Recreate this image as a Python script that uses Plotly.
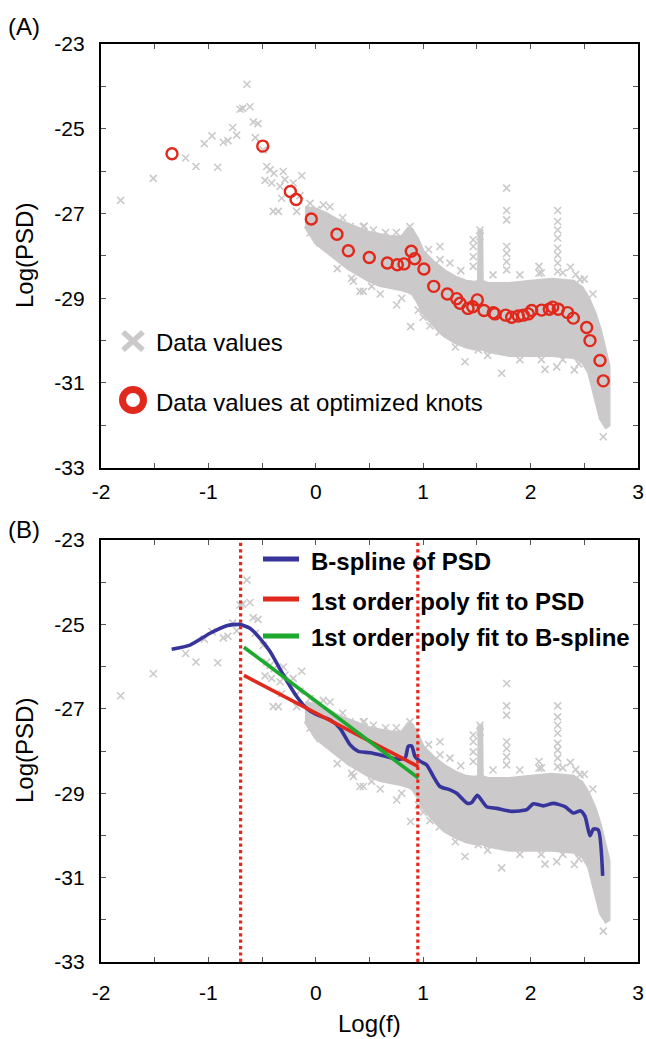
import plotly.graph_objects as go

# ---------------- data ----------------
# dense PSD cloud: envelope of the grey band
cloud_x = [-0.10, 0.00, 0.10, 0.20, 0.30, 0.40, 0.50, 0.60, 0.70, 0.80, 0.86, 0.90, 0.95,
           1.00, 1.10, 1.20, 1.30, 1.40, 1.48, 1.515, 1.52, 1.545, 1.55, 1.60, 1.80, 2.00,
           2.20, 2.40, 2.48, 2.54, 2.60, 2.65, 2.70, 2.73]
cloud_upper = [-26.85, -26.90, -27.00, -27.15, -27.25, -27.35, -27.45, -27.50, -27.55, -27.55,
               -27.35, -27.40, -27.60, -27.90, -28.15, -28.35, -28.50, -28.60, -28.62, -28.60,
               -27.40, -27.40, -28.60, -28.65, -28.65, -28.60, -28.55, -28.60, -28.75, -29.00,
               -29.35, -29.75, -30.30, -30.60]
cloud_lower = [-27.30, -27.70, -27.90, -28.10, -28.30, -28.45, -28.60, -28.70, -28.75, -28.80,
               -28.85, -28.90, -29.10, -29.35, -29.65, -29.90, -30.05, -30.15, -30.20, -30.20,
               -30.20, -30.20, -30.20, -30.25, -30.35, -30.35, -30.35, -30.40, -30.50, -30.75,
               -31.35, -31.85, -32.05, -32.00]

# individual data values (sparse low-frequency points, spikes, outliers)
pts_x = [-1.817, -1.513, -1.212, -1.116, -1.038, -0.966, -0.913, -0.861, -0.818, -0.774,
         -0.737, -0.706, -0.681, -0.641, -0.613, -0.582, -0.538, -0.563, -0.489, -0.457,
         -0.426, -0.389, -0.303, -0.131, -0.473, -0.411, -0.333, -0.287, -0.210, -0.318,
         -0.396, -0.349, -0.178, -0.147, -0.054, 0.008, 0.070, 0.132, -0.054, 0.039, 0.163,
         0.334, 0.443, 0.753, 0.883, 0.955, 1.063, 1.389, 1.731, 1.513, 2.134, 2.243, 2.407,
         2.677, 0.412, 0.520,
         1.777, 1.777, 1.777, 1.777, 1.777, 1.777, 1.777,
         2.252, 2.252, 2.252, 2.252, 2.252, 2.252, 2.252, 2.252,
         1.529, 1.529, 1.466, 1.466, 1.466, 1.466, 1.156, 2.078, 2.078, 2.37, 2.42, 2.46,
         0.877, 0.877, 0.318, 0.443, 0.536, 1.156, 1.249,
         0.25, 0.45, 0.65, 0.75, 1.05, 1.35, 1.65, 1.90, 2.10, 2.30, 2.50, 2.58,
         0.20, 0.35, 0.60, 0.80, 1.00, 1.15, 1.30, 1.60, 1.90, 2.10, 2.30, 2.45]
pts_y = [-26.69, -26.17, -25.69, -25.89, -25.35, -25.17, -25.91, -25.32, -25.28, -24.97,
         -25.15, -24.54, -24.52, -23.95, -24.48, -24.84, -24.88, -25.21, -25.50, -25.89,
         -25.97, -26.05, -26.01, -26.11, -26.22, -26.28, -26.36, -26.20, -26.28, -26.64,
         -26.95, -26.95, -26.95, -26.58, -26.76, -26.91, -26.80, -26.84, -27.46, -27.70, -27.86,
         -28.53, -28.84, -29.16, -29.67, -29.28, -29.65, -30.50, -30.77, -30.22, -30.68, -30.62, -30.69,
         -32.27, -28.84, -28.72,
         -26.40, -26.93, -27.15, -27.78, -27.94, -28.14, -28.33,
         -26.93, -27.19, -27.39, -27.58, -27.82, -27.98, -28.17, -28.37,
         -27.39, -27.55, -27.62, -27.78, -28.02, -28.25, -27.78, -28.25, -28.41, -28.27, -28.44, -28.56,
         -27.31, -27.54, -27.31, -27.31, -27.39, -28.09, -28.17,
         -27.10, -27.30, -27.45, -27.45, -27.85, -28.35, -28.45, -28.45, -28.40, -28.40, -28.55, -28.90,
         -28.30, -28.60, -28.90, -29.00, -29.45, -29.80, -30.15, -30.35, -30.45, -30.45, -30.45, -30.55]

# data values at optimized knots (panel A)
knot_x = [-1.339, -0.494, -0.237, -0.184, -0.042, 0.197, 0.303, 0.498, 0.666, 0.759, 0.821,
          0.889, 0.921, 1.007, 1.098, 1.225, 1.312, 1.343, 1.417, 1.461, 1.504, 1.566, 1.653,
          1.668, 1.768, 1.824, 1.886, 1.932, 1.979, 2.010, 2.103, 2.174, 2.206, 2.258, 2.345,
          2.398, 2.522, 2.553, 2.646, 2.677]
knot_y = [-25.59, -25.41, -26.48, -26.67, -27.13, -27.49, -27.88, -28.04, -28.17, -28.21, -28.19,
          -27.89, -28.07, -28.31, -28.72, -28.90, -29.01, -29.12, -29.24, -29.20, -29.04, -29.29,
          -29.34, -29.37, -29.40, -29.45, -29.42, -29.40, -29.37, -29.29, -29.28, -29.26, -29.21,
          -29.26, -29.34, -29.47, -29.69, -30.00, -30.47, -30.95]

# B-spline of PSD (panel B)
spline_x = [-1.342, -1.171, -0.985, -0.830, -0.712, -0.613, -0.520, -0.426, -0.302, -0.178,
            -0.085, 0.008, 0.132, 0.225, 0.318, 0.396, 0.505, 0.628, 0.753, 0.831, 0.861,
            0.893, 0.924, 0.970, 1.033, 1.094, 1.156, 1.250, 1.312, 1.411, 1.452, 1.504,
            1.591, 1.684, 1.824, 1.964, 2.025, 2.118, 2.211, 2.320, 2.398, 2.466, 2.507,
            2.553, 2.584, 2.630, 2.671]
spline_y = [-25.59, -25.49, -25.21, -25.03, -25.00, -25.09, -25.33, -25.64, -26.20, -26.71,
            -26.99, -27.14, -27.26, -27.46, -27.85, -28.01, -28.04, -28.11, -28.19, -28.17, -27.89,
            -27.88, -28.13, -28.24, -28.33, -28.60, -28.84, -28.92, -29.00, -29.24, -29.22, -29.05,
            -29.32, -29.36, -29.43, -29.39, -29.25, -29.30, -29.24, -29.32, -29.47, -29.42, -29.55,
            -30.01, -29.85, -29.87, -30.96]

# first-order polynomial fits (panel B)
fit_psd_x = [-0.669, 0.955]
fit_psd_y = [-26.21, -28.37]
fit_spl_x = [-0.669, 0.955]
fit_spl_y = [-25.54, -28.64]

# fitting band limits (dotted red lines)
band_limits = [-0.70, 0.95]

x_ticks = [-2, -1.5, -1, -0.5, 0, 0.5, 1, 1.5, 2, 2.5, 3]
x_ticktext = ["-2", "", "-1", "", "0", "", "1", "", "2", "", "3"]
y_ticks = [-33, -32, -31, -30, -29, -28, -27, -26, -25, -24, -23]
y_ticktext = ["-33", "", "-31", "", "-29", "", "-27", "", "-25", "", "-23"]

# ---------------- styling / layout ----------------
W, H = 646, 1039
ML, MR, MT, MB = 101, 8, 44, 77
PW, PH = W - ML - MR, H - MT - MB


def px(xp):
    return (xp - ML) / PW


def py(yp):
    return (H - MB - yp) / PH


FONT = "Liberation Sans, Arial, Helvetica, sans-serif"
GREY = "#cbc9c9"
RED = "#e0291c"
BLUE = "#37359b"
GREEN = "#1ea82e"

fig = go.Figure()

for xa, ya in (("x", "y"), ("x2", "y2")):
    fig.add_trace(go.Scatter(
        x=cloud_x + cloud_x[::-1], y=cloud_upper + cloud_lower[::-1],
        fill="toself", fillcolor=GREY, mode="lines",
        line=dict(color=GREY, width=3), xaxis=xa, yaxis=ya, hoverinfo="skip"))
    fig.add_trace(go.Scatter(
        x=pts_x, y=pts_y, mode="markers", xaxis=xa, yaxis=ya,
        marker=dict(symbol="x-thin-open", size=7, color=GREY,
                    line=dict(color=GREY, width=1.6))))

fig.add_trace(go.Scatter(
    x=knot_x, y=knot_y, mode="markers", xaxis="x", yaxis="y",
    marker=dict(symbol="circle-open", size=11, color=RED, line=dict(color=RED, width=2.4))))

fig.add_trace(go.Scatter(x=spline_x, y=spline_y, mode="lines", xaxis="x2", yaxis="y2",
                         line=dict(color=BLUE, width=3.6, shape="spline", smoothing=0.6)))
fig.add_trace(go.Scatter(x=fit_psd_x, y=fit_psd_y, mode="lines", xaxis="x2", yaxis="y2",
                         line=dict(color=RED, width=3.6)))
fig.add_trace(go.Scatter(x=fit_spl_x, y=fit_spl_y, mode="lines", xaxis="x2", yaxis="y2",
                         line=dict(color=GREEN, width=3.6)))

for v in band_limits:
    fig.add_shape(type="line", xref="x2", yref="y2 domain", x0=v, x1=v, y0=0, y1=1,
                  line=dict(color="#e8261a", width=3.2, dash="dot"), layer="above")

axis_common = dict(
    showgrid=False, zeroline=False, showline=True, linecolor="black", linewidth=2.2,
    mirror="allticks", ticks="inside", ticklen=5, tickwidth=1.4, tickcolor="#555555",
    tickfont=dict(family=FONT, size=21, color="black"),
)

dom_a = [py(467.7), 1.0]
dom_b = [0.0, py(540)]

fig.update_layout(
    width=W, height=H, plot_bgcolor="white", paper_bgcolor="white",
    margin=dict(l=ML, r=MR, t=MT, b=MB, autoexpand=False), showlegend=False,
    xaxis=dict(range=[-2, 3], domain=[0, 1], anchor="y", tickmode="array",
               tickvals=x_ticks, ticktext=x_ticktext, ticklabelstandoff=4, **axis_common),
    yaxis=dict(range=[-33, -23], domain=dom_a, anchor="x", tickmode="array",
               tickvals=y_ticks, ticktext=y_ticktext, ticklabelstandoff=10, **axis_common),
    xaxis2=dict(range=[-2, 3], domain=[0, 1], anchor="y2", tickmode="array",
                tickvals=x_ticks, ticktext=x_ticktext, ticklabelstandoff=11, **axis_common),
    yaxis2=dict(range=[-33, -23], domain=dom_b, anchor="x2", tickmode="array",
                tickvals=y_ticks, ticktext=y_ticktext, ticklabelstandoff=10, **axis_common),
)

ann = []


def text(t, xp, yp, size=24, xanchor="left", angle=0, bold=False):
    ann.append(dict(text=("<b>%s</b>" % t) if bold else t, x=px(xp), y=py(yp),
                    xref="paper", yref="paper", xanchor=xanchor, yanchor="middle",
                    showarrow=False, textangle=angle,
                    font=dict(family=FONT, size=size, color="black")))


text("(A)", 6, 26)
text("(B)", 6, 529)
text("Log(PSD)", 24, 256, xanchor="center", angle=-90)
text("Log(PSD)", 24, 751, xanchor="center", angle=-90)
text("Log(f)", 369, 1023, xanchor="center")
text("Data values", 154, 342)
text("Data values at optimized knots", 154, 402)
text("B-spline of PSD", 309, 561, bold=True)
text("1st order poly fit to PSD", 309, 601, bold=True)
text("1st order poly fit to B-spline", 309, 638, bold=True)
fig.update_layout(annotations=ann)

# legend glyphs
shapes = []
for (x0, y0, x1, y1) in ((123, 332, 143, 350), (123, 350, 143, 332)):
    shapes.append(dict(type="line", xref="paper", yref="paper", x0=px(x0), y0=py(y0),
                       x1=px(x1), y1=py(y1), line=dict(color=GREY, width=5.5)))
shapes.append(dict(type="circle", xref="paper", yref="paper", x0=px(133 - 10.5), x1=px(133 + 10.5),
                   y0=py(400 - 10.5), y1=py(400 + 10.5), line=dict(color=RED, width=7)))
for yy, c in ((559, BLUE), (599, RED), (636, GREEN)):
    shapes.append(dict(type="line", xref="paper", yref="paper", x0=px(263), x1=px(299),
                       y0=py(yy), y1=py(yy), line=dict(color=c, width=5)))
for s in shapes:
    fig.add_shape(**s)

fig.write_html("out.html", config={"displayModeBar": False},
               post_script="document.body.style.margin='0px';")
